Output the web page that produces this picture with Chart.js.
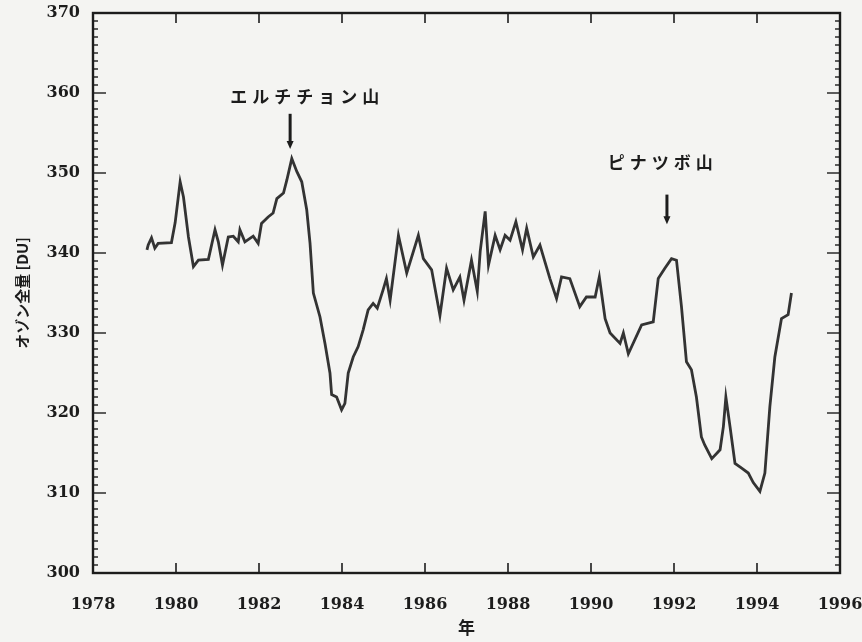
<!DOCTYPE html>
<html lang="ja">
<head>
<meta charset="utf-8">
<title>オゾン全量の推移</title>
<script src="https://cdn.jsdelivr.net/npm/chart.js@4.4.1/dist/chart.umd.min.js"></script>
<style>
  html, body { margin: 0; padding: 0; background: #f4f4f2; }
  #wrap { width: 862px; height: 642px; }
</style>
</head>
<body>
<div id="wrap"><canvas id="c" width="862" height="642"></canvas></div>
<script>
// Total ozone, monthly-ish series (year, Dobson units)
const years = [
  1979.30, 1979.33, 1979.41, 1979.49, 1979.57, 1979.89, 1979.98, 1980.10, 1980.18, 1980.30,
  1980.42, 1980.54, 1980.78, 1980.94, 1981.02, 1981.12, 1981.26, 1981.38, 1981.50, 1981.54,
  1981.66, 1981.86, 1981.98, 1982.06, 1982.22, 1982.34, 1982.43, 1982.59, 1982.67, 1982.79,
  1982.91, 1983.03, 1983.15, 1983.23, 1983.31, 1983.47, 1983.59, 1983.71, 1983.75, 1983.87,
  1983.99, 1984.07, 1984.15, 1984.27, 1984.39, 1984.51, 1984.63, 1984.75, 1984.85, 1984.99,
  1985.07, 1985.16, 1985.36, 1985.56, 1985.84, 1985.96, 1986.16, 1986.36, 1986.52, 1986.68,
  1986.84, 1986.94, 1987.12, 1987.26, 1987.33, 1987.45, 1987.53, 1987.69, 1987.81, 1987.93,
  1988.05, 1988.19, 1988.35, 1988.45, 1988.61, 1988.77, 1989.01, 1989.17, 1989.29, 1989.49,
  1989.73, 1989.89, 1990.10, 1990.20, 1990.34, 1990.46, 1990.70, 1990.78, 1990.90, 1991.22,
  1991.50, 1991.62, 1991.78, 1991.94, 1992.06, 1992.18, 1992.30, 1992.42, 1992.54, 1992.66,
  1992.74, 1992.91, 1993.11, 1993.19, 1993.25, 1993.35, 1993.47, 1993.63, 1993.79, 1993.91,
  1994.07, 1994.19, 1994.31, 1994.43, 1994.59, 1994.75, 1994.83
];
const ozone = [
  340.4, 341.0, 341.9, 340.6, 341.2, 341.3, 343.8, 348.9, 347.0, 342.0,
  338.3, 339.1, 339.2, 342.9, 341.4, 338.5, 342.0, 342.1, 341.4, 342.9,
  341.4, 342.1, 341.2, 343.7, 344.5, 345.0, 346.8, 347.5, 349.1, 351.8,
  350.2, 348.9, 345.4, 341.2, 335.0, 332.0, 328.7, 325.0, 322.3, 322.0,
  320.4, 321.2, 325.0, 327.0, 328.3, 330.4, 332.9, 333.7, 333.1, 335.4,
  336.8, 334.1, 342.2, 337.5, 342.2, 339.3, 337.9, 332.2, 338.1, 335.4,
  337.0, 334.1, 339.1, 335.2, 340.2, 345.2, 338.5, 342.2, 340.4, 342.2,
  341.6, 343.9, 340.4, 343.1, 339.5, 341.0, 336.8, 334.3, 337.0, 336.8,
  333.3, 334.5, 334.5, 337.0, 331.8, 330.0, 328.7, 330.0, 327.4, 331.0,
  331.4, 336.8, 338.1, 339.3, 339.1, 333.3, 326.4, 325.4, 322.0, 317.0,
  316.0, 314.3, 315.4, 318.3, 322.0, 318.3, 313.7, 313.1, 312.5, 311.3,
  310.2, 312.5, 320.8, 327.0, 331.8, 332.3, 335.0
];

// Axis ranges and labels
const xRange = [1978, 1996];
const yRange = [300, 370];
const xTitle = '年';
const yTitle = 'オゾン全量 [DU]';

// Volcano labels
const volcanoNames = ['エルチチョン山', 'ピナツボ山'];
const volcanoYears = [1982.75, 1991.83];

const points = years.map((yr, i) => ({ x: yr, y: ozone[i] }));

const INK = '#1c1c1c';

const paperBg = {
  id: 'paperBg',
  beforeDraw(chart) {
    const { ctx, width, height } = chart;
    ctx.save();
    ctx.fillStyle = '#f4f4f2';
    ctx.fillRect(0, 0, width, height);
    ctx.restore();
  }
};

// Frame with inward ticks on all four sides
const frameTicks = {
  id: 'frameTicks',
  afterDatasetsDraw(chart) {
    const { ctx, chartArea: a, scales: { x, y } } = chart;
    const seg = (x1, y1, x2, y2) => { ctx.beginPath(); ctx.moveTo(x1, y1); ctx.lineTo(x2, y2); ctx.stroke(); };
    ctx.save();
    ctx.strokeStyle = INK;
    ctx.lineWidth = 1.6;
    x.ticks.forEach(t => {
      const px = x.getPixelForValue(t.value);
      if (px <= a.left + 1 || px >= a.right - 1) return;
      seg(px, a.bottom, px, a.bottom - 10);
      seg(px, a.top, px, a.top + 10);
    });
    ctx.lineWidth = 1.4;
    for (let v = y.min + 1; v < y.max; v++) {
      const py = y.getPixelForValue(v);
      const len = v % 10 === 0 ? 13 : 5;
      seg(a.left, py, a.left + len, py);
      seg(a.right, py, a.right - len, py);
    }
    ctx.lineWidth = 2.4;
    ctx.strokeRect(a.left, a.top, a.right - a.left, a.bottom - a.top);
    ctx.restore();
  }
};

// Volcano names with down arrows
const volcanoMarks = {
  id: 'volcanoMarks',
  afterDatasetsDraw(chart, args, opts) {
    const { ctx, scales: { x, y } } = chart;
    ctx.save();
    ctx.fillStyle = INK;
    ctx.strokeStyle = INK;
    ctx.font = 'bold 17px "Noto Sans CJK JP"';
    ctx.letterSpacing = '5px';
    ctx.textAlign = 'center';
    ctx.textBaseline = 'middle';
    opts.marks.forEach((m, i) => {
      const ax = x.getPixelForValue(volcanoYears[i]);
      ctx.fillText(volcanoNames[i], x.getPixelForValue(m.textX), y.getPixelForValue(m.textY));
      const top = y.getPixelForValue(m.arrowTop);
      const tip = y.getPixelForValue(m.arrowTip);
      ctx.lineWidth = 3;
      ctx.beginPath(); ctx.moveTo(ax, top); ctx.lineTo(ax, tip - 5); ctx.stroke();
      ctx.beginPath();
      ctx.moveTo(ax - 3.5, tip - 8); ctx.lineTo(ax + 3.5, tip - 8); ctx.lineTo(ax, tip);
      ctx.closePath(); ctx.fill();
    });
    ctx.restore();
  }
};

const tickFont = { family: '"DejaVu Serif"', size: 16, weight: 'bold' };

new Chart(document.getElementById('c'), {
  type: 'line',
  data: {
    datasets: [{
      data: points,
      borderColor: '#333333',
      borderWidth: 2.8,
      pointRadius: 0,
      tension: 0,
      fill: false
    }]
  },
  options: {
    responsive: false,
    animation: false,
    events: [],
    layout: { padding: { left: 0, top: 13, right: 22, bottom: 0 } },
    plugins: {
      legend: { display: false },
      tooltip: { enabled: false },
      volcanoMarks: {
        marks: [
          { textX: 1983.16, textY: 359.5, arrowTop: 357.4, arrowTip: 353.0 },
          { textX: 1991.73, textY: 351.3, arrowTop: 347.3, arrowTip: 343.6 }
        ]
      }
    },
    scales: {
      x: {
        type: 'linear',
        min: xRange[0],
        max: xRange[1],
        grid: { display: false },
        border: { display: false },
        ticks: { stepSize: 2, color: INK, font: tickFont, padding: 14, maxRotation: 0, callback: v => String(v) },
        title: { display: true, text: xTitle, color: INK, font: { family: '"Noto Sans CJK JP"', size: 17, weight: 'bold' }, padding: { top: 0, bottom: 4 } },
        afterFit: s => { s.height = 69; s.paddingLeft = 0; s.paddingRight = 0; }
      },
      y: {
        min: yRange[0],
        max: yRange[1],
        grid: { display: false },
        border: { display: false },
        ticks: { stepSize: 10, color: INK, font: tickFont, padding: 5 },
        title: { display: true, text: yTitle, color: INK, font: { family: '"Noto Sans CJK JP"', size: 15, weight: 'bold' }, padding: { top: 13, bottom: 0 } },
        afterFit: s => { s.width = 93; s.paddingTop = 0; s.paddingBottom = 0; }
      }
    }
  },
  plugins: [paperBg, frameTicks, volcanoMarks]
});
</script>
</body>
</html>
